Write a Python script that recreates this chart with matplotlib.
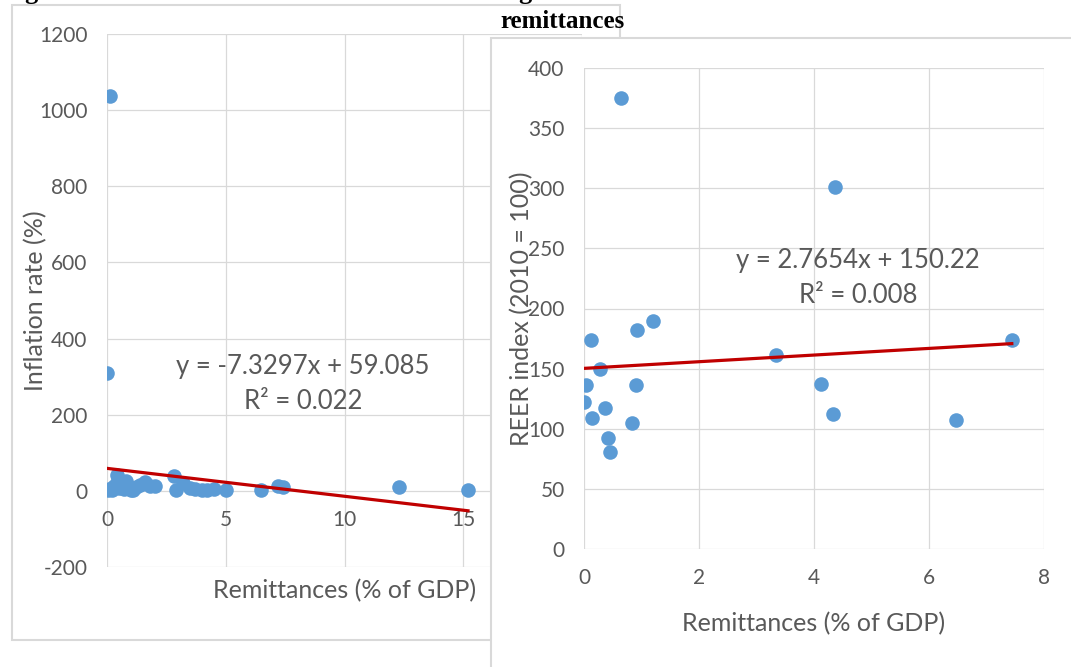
import matplotlib.pyplot as plt
from matplotlib.patches import Rectangle

# left panel: inflation vs remittances
remit_left = [0.13, 0.0, 0.05, 0.1, 0.2, 0.3, 0.4, 0.45, 0.5, 0.6, 0.7, 0.8, 0.9,
              1.0, 1.1, 1.2, 1.4, 1.6, 1.8, 2.0, 2.8, 2.9, 3.2, 3.5, 3.7, 4.0,
              4.2, 4.5, 5.0, 6.5, 7.2, 7.4, 12.3, 15.2]
inflation = [1037, 310, 3, 6, 2, 12, 42, 30, 8, 18, 5, 25, 10,
             3, 2, 9, 15, 22, 12, 14, 40, 3, 20, 8, 5, 2,
             3, 6, 2, 2, 14, 10, 9, 2]
trend_left = (-7.3297, 59.085)
r2_left = '0.022'

# right panel: REER vs remittances
remit_right = [0.00, 0.03, 0.12, 0.14, 0.28, 0.37, 0.42, 0.46, 0.65, 0.84,
               0.90, 0.92, 1.20, 3.34, 4.13, 4.33, 4.37, 6.47, 7.44]
reer = [122, 136, 174, 109, 150, 117, 92, 81, 375, 105,
        136, 182, 190, 161, 137, 112, 301, 107, 174]
trend_right = (2.7654, 150.22)
r2_right = '0.008'

W, H = 1071, 667
dot = '#5B9BD5'
red = '#C00000'
grid = '#D9D9D9'
txt = '#595959'
plt.rcParams['font.family'] = ['Lato', 'DejaVu Sans']
plt.rcParams['axes.unicode_minus'] = False

fig = plt.figure(figsize=(W / 100, H / 100), dpi=100)


def rect(x0, y0, x1, y1):
    # pixel box (top-left origin) -> figure fraction rect
    return [x0 / W, 1 - y1 / H, (x1 - x0) / W, (y1 - y0) / H]


def style(ax):
    ax.set_facecolor('none')
    for s in ax.spines.values():
        s.set_visible(False)
    ax.grid(True, color=grid, lw=0.9)
    ax.set_axisbelow(True)
    ax.tick_params(length=0, labelsize=15, labelcolor=txt)
    ax.tick_params(axis='x', pad=14)
    ax.tick_params(axis='y', pad=14)


# chart frames (left one sits under the right one)
fig.patches.append(Rectangle((12 / W, 1 - 640 / H), 608 / W, 635 / H,
                             transform=fig.transFigure, facecolor='white',
                             edgecolor=grid, lw=1.5, zorder=-1))
fig.patches.append(Rectangle((491 / W, -0.05), 600 / W, 1 - 38 / H + 0.05,
                             transform=fig.transFigure, facecolor='white',
                             edgecolor=grid, lw=1.5, zorder=1))

# left chart
ax1 = fig.add_axes(rect(107, 34, 582, 567), zorder=0)
style(ax1)
ax1.scatter(remit_left, inflation, s=110, color=dot, zorder=2, linewidths=0)
x0, x1 = min(remit_left), max(remit_left)
ax1.plot([x0, x1], [trend_left[0] * x0 + trend_left[1], trend_left[0] * x1 + trend_left[1]],
         color=red, lw=2.3, zorder=3)
ax1.set_xlim(0, 20)
ax1.set_ylim(-200, 1200)
ax1.set_xticks(range(0, 21, 5))
ax1.set_yticks(range(-200, 1201, 200))
ax1.spines['bottom'].set_position(('data', 0))
ax1.set_xlabel('Remittances (% of GDP)', fontsize=18, color=txt)
ax1.xaxis.set_label_coords(0.5, -0.022)
ax1.set_ylabel('Inflation rate (%)', fontsize=18, color=txt)
ax1.yaxis.set_label_coords(-0.125, 0.5)
ax1.text(0.413, 0.377, f'y = {trend_left[0]}x + {trend_left[1]}', transform=ax1.transAxes,
         ha='center', va='center', fontsize=18.5, color=txt)
ax1.text(0.413, 0.311, f'R² = {r2_left}', transform=ax1.transAxes,
         ha='center', va='center', fontsize=18.5, color=txt)

# right chart
ax2 = fig.add_axes(rect(584, 68, 1044, 549), zorder=2)
style(ax2)
ax2.scatter(remit_right, reer, s=110, color=dot, zorder=2, linewidths=0)
x0, x1 = min(remit_right), max(remit_right)
ax2.plot([x0, x1], [trend_right[0] * x0 + trend_right[1], trend_right[0] * x1 + trend_right[1]],
         color=red, lw=2.3, zorder=3)
ax2.set_xlim(0, 8)
ax2.set_ylim(0, 400)
ax2.set_xticks(range(0, 9, 2))
ax2.set_yticks(range(0, 401, 50))
ax2.set_xlabel('Remittances (% of GDP)', fontsize=18, color=txt)
ax2.xaxis.set_label_coords(0.5, -0.13)
ax2.set_ylabel('REER index (2010 = 100)', fontsize=18, color=txt)
ax2.yaxis.set_label_coords(-0.111, 0.5)
ax2.text(0.596, 0.599, f'y = {trend_right[0]}x + {trend_right[1]}', transform=ax2.transAxes,
         ha='center', va='center', fontsize=18.5, color=txt)
ax2.text(0.596, 0.528, f'R² = {r2_right}', transform=ax2.transAxes,
         ha='center', va='center', fontsize=18.5, color=txt)

# caption lines from the page, mostly cut off at the top
fig.text(562 / W, 1 - 22 / H, 'remittances', ha='center', va='center',
         fontsize=18, fontweight='bold', family='Liberation Serif', zorder=3)
fig.text(24 / W, 1 + 1 / H, 'g', ha='left', va='baseline',
         fontsize=19, fontweight='bold', family='Liberation Serif')
fig.text(518 / W, 1 + 1 / H, 'g', ha='left', va='baseline',
         fontsize=19, fontweight='bold', family='Liberation Serif')

fig.savefig('out.png', dpi=100)
